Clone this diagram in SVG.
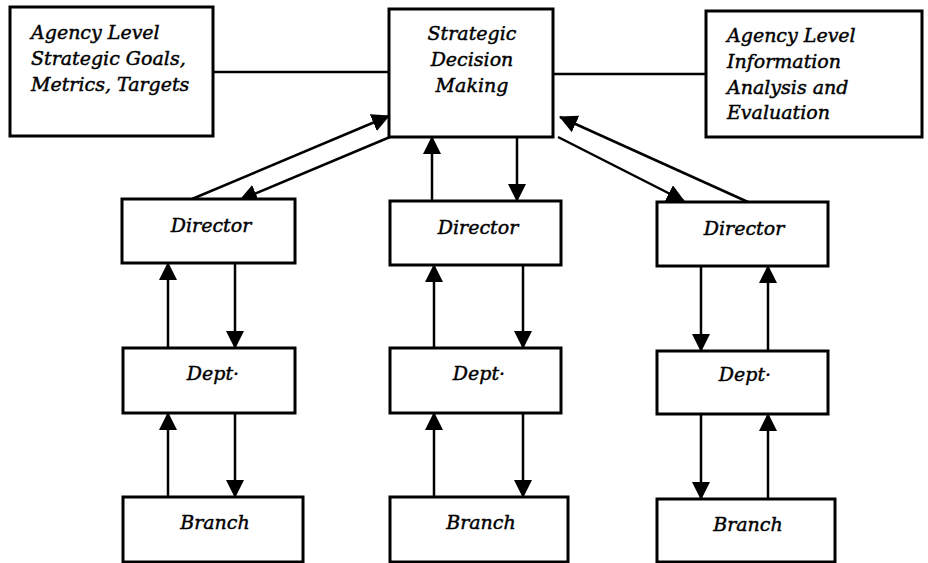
<svg xmlns="http://www.w3.org/2000/svg" width="928" height="563" viewBox="0 0 928 563">
<defs>
<style>
.box{fill:#fff;stroke:#000;stroke-width:3}
.t{font-family:"DejaVu Serif","Liberation Serif",serif;font-style:italic;font-size:19px;fill:#000;stroke:#000;stroke-width:0.45}
.c{text-anchor:middle}
.ln{stroke:#000;stroke-width:2.5;fill:none}
.ar{stroke:#000;stroke-width:2.5;fill:none;marker-end:url(#ah)}
</style>
<marker id="ah" markerUnits="userSpaceOnUse" viewBox="0 0 18 18" refX="17" refY="9" markerWidth="18" markerHeight="18" orient="auto">
<path d="M0,0 L18,9 L0,18 Z" fill="#000"/>
</marker>
</defs>
<rect width="928" height="563" fill="#fff"/>
<g id="connectors">
<line class="ln" x1="213" y1="72" x2="389" y2="72"/>
<line class="ln" x1="553" y1="74" x2="706" y2="74"/>
<line class="ar" x1="192" y1="199" x2="389" y2="116"/>
<line class="ar" x1="390" y1="137" x2="240" y2="200"/>
<line class="ar" x1="432" y1="201" x2="432" y2="137"/>
<line class="ar" x1="517" y1="137" x2="517" y2="201"/>
<line class="ar" x1="558" y1="137" x2="684" y2="201"/>
<line class="ar" x1="748" y1="202" x2="560" y2="117"/>
<line class="ar" x1="168" y1="348" x2="168" y2="263"/>
<line class="ar" x1="235" y1="263" x2="235" y2="348"/>
<line class="ar" x1="168" y1="497" x2="168" y2="413"/>
<line class="ar" x1="235" y1="413" x2="235" y2="497"/>
<line class="ar" x1="434" y1="348" x2="434" y2="265"/>
<line class="ar" x1="523" y1="265" x2="523" y2="348"/>
<line class="ar" x1="434" y1="497" x2="434" y2="413"/>
<line class="ar" x1="523" y1="413" x2="523" y2="497"/>
<line class="ar" x1="701" y1="266" x2="701" y2="351"/>
<line class="ar" x1="768" y1="351" x2="768" y2="266"/>
<line class="ar" x1="701" y1="414" x2="701" y2="499"/>
<line class="ar" x1="768" y1="499" x2="768" y2="414"/>
</g>
<g id="goals">
<rect class="box" x="10" y="7" width="203" height="129"/>
<text class="t" x="31" y="39">Agency Level</text>
<text class="t" x="31" y="65">Strategic Goals,</text>
<text class="t" x="31" y="91">Metrics, Targets</text>
</g>
<g id="sdm">
<rect class="box" x="389" y="9" width="164" height="128"/>
<text class="t c" x="472" y="40">Strategic</text>
<text class="t c" x="472" y="66">Decision</text>
<text class="t c" x="472" y="92">Making</text>
</g>
<g id="info">
<rect class="box" x="706" y="11" width="216" height="126"/>
<text class="t" x="727" y="42">Agency Level</text>
<text class="t" x="727" y="68">Information</text>
<text class="t" x="727" y="94">Analysis and</text>
<text class="t" x="727" y="119">Evaluation</text>
</g>
<g id="director1">
<rect class="box" x="122" y="199" width="173" height="64"/>
<text class="t c" x="211" y="232">Director</text>
</g>
<g id="director2">
<rect class="box" x="390" y="201" width="171" height="64"/>
<text class="t c" x="478" y="234">Director</text>
</g>
<g id="director3">
<rect class="box" x="657" y="202" width="171" height="64"/>
<text class="t c" x="744" y="235">Director</text>
</g>
<g id="dept1">
<rect class="box" x="123" y="348" width="172" height="65"/>
<text class="t c" x="213" y="380">Dept·</text>
</g>
<g id="dept2">
<rect class="box" x="390" y="348" width="171" height="65"/>
<text class="t c" x="479" y="380">Dept·</text>
</g>
<g id="dept3">
<rect class="box" x="657" y="351" width="171" height="63"/>
<text class="t c" x="745" y="381">Dept·</text>
</g>
<g id="branch1">
<rect class="box" x="123" y="497" width="180" height="65"/>
<text class="t c" x="215" y="529">Branch</text>
</g>
<g id="branch2">
<rect class="box" x="390" y="497" width="178" height="65"/>
<text class="t c" x="481" y="529">Branch</text>
</g>
<g id="branch3">
<rect class="box" x="657" y="499" width="178" height="63"/>
<text class="t c" x="748" y="531">Branch</text>
</g>
</svg>
